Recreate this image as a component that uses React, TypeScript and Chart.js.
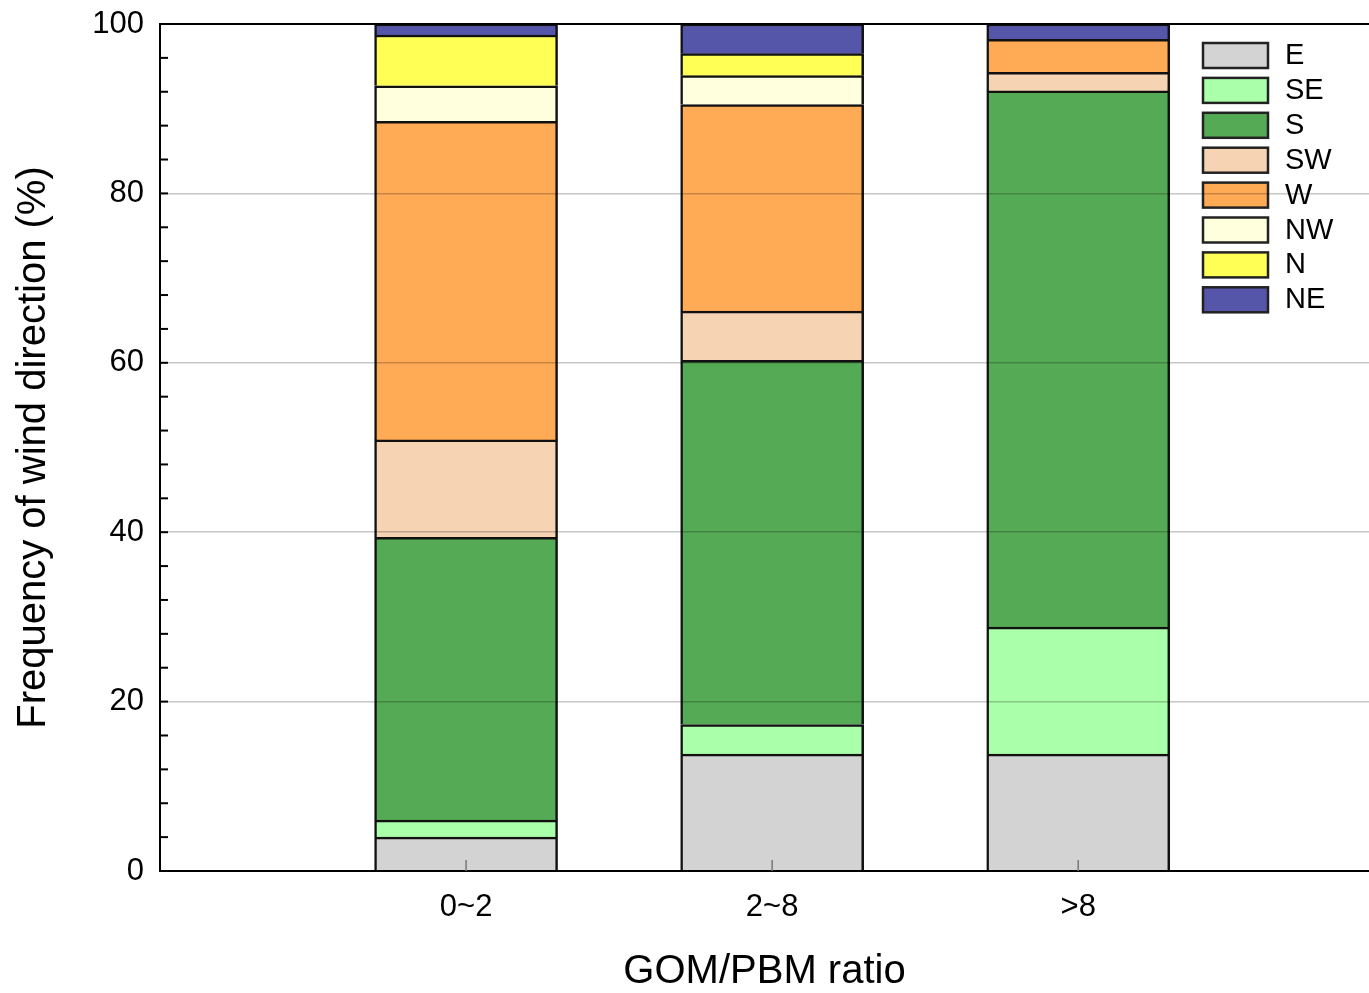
import React, { useEffect, useRef } from 'react';
import { Chart, registerables } from 'chart.js';

Chart.register(...registerables);

const categories = ['0~2', '2~8', '>8'];
const seriesNames = ['E', 'SE', 'S', 'SW', 'W', 'NW', 'N', 'NE'];
const valuesE = [4.0, 13.8, 13.8];
const valuesSE = [2.0, 3.5, 15.0];
const valuesS = [33.4, 43.0, 63.3];
const valuesSW = [11.5, 5.8, 2.2];
const valuesW = [37.6, 24.4, 3.9];
const valuesNW = [4.2, 3.4, 0];
const valuesN = [6.0, 2.6, 0];
const valuesNE = [1.3, 3.5, 1.8];
const seriesValues = [valuesE, valuesSE, valuesS, valuesSW, valuesW, valuesNW, valuesN, valuesNE];
const seriesColors = ['#d3d3d3', '#aaffaa', '#55aa55', '#f5d3b3', '#ffaa55', '#ffffdd', '#ffff55', '#5555aa'];
const yMin = 0;
const yMax = 100;
const yMajorStep = 20;
const yMinorStep = 4;

const FONT = "'Liberation Sans', Arial, Helvetica, sans-serif";

const decorPlugin = {
  id: 'decor',
  afterDatasetsDraw(chart: any) {
    const { ctx } = chart;
    ctx.save();
    seriesNames.forEach((name, i) => {
      const x = 1203;
      const y = 43 + i * 34.9;
      ctx.fillStyle = seriesColors[i];
      ctx.fillRect(x, y, 65, 25);
      ctx.strokeStyle = '#222';
      ctx.lineWidth = 2.5;
      ctx.strokeRect(x, y, 65, 25);
      ctx.fillStyle = '#000';
      ctx.font = `29px ${FONT}`;
      ctx.textAlign = 'left';
      ctx.textBaseline = 'middle';
      ctx.fillText(name, 1285, y + 13);
    });
    ctx.restore();
  },
  afterDraw(chart: any) {
    const { ctx, chartArea, scales } = chart;
    ctx.save();
    ctx.strokeStyle = '#000';
    ctx.lineWidth = 2;
    ctx.beginPath();
    ctx.moveTo(chartArea.left - 1, chartArea.top);
    ctx.lineTo(chartArea.right, chartArea.top);
    ctx.stroke();
    for (let v = yMin; v <= yMax; v += yMinorStep) {
      const y = scales.y.getPixelForValue(v);
      ctx.beginPath();
      ctx.moveTo(chartArea.left, y);
      ctx.lineTo(chartArea.left + 8, y);
      ctx.stroke();
    }
    ctx.strokeStyle = '#777';
    ctx.lineWidth = 1.5;
    categories.forEach((_, i) => {
      const x = scales.x.getPixelForValue(i + 1);
      ctx.beginPath();
      ctx.moveTo(x, chartArea.bottom);
      ctx.lineTo(x, chartArea.bottom - 11);
      ctx.stroke();
    });
    ctx.restore();
  },
};

export default function App() {
  const canvasRef = useRef<HTMLCanvasElement>(null);

  useEffect(() => {
    const canvas = canvasRef.current;
    if (!canvas) return;
    Chart.defaults.font.family = FONT;
    Chart.defaults.color = '#000';

    const datasets = seriesNames.map((name, si) => ({
      label: name,
      data: seriesValues[si].map((v, i) => ({ x: i + 1, y: v })),
      backgroundColor: seriesColors[si],
      borderColor: '#111',
      borderWidth: 2.5,
      barThickness: 183,
    }));

    const chart = new Chart(canvas, {
      type: 'bar',
      data: { datasets },
      plugins: [decorPlugin],
      options: {
        responsive: false,
        animation: false,
        layout: { padding: { top: 24, left: 0, right: 0, bottom: 0 } },
        plugins: { legend: { display: false }, tooltip: { enabled: false } },
        scales: {
          x: {
            type: 'linear',
            stacked: true,
            offset: false,
            min: 0,
            max: 3.95,
            afterBuildTicks: (scale: any) => {
              scale.ticks = categories.map((_, i) => ({ value: i + 1 }));
            },
            afterFit: (scale: any) => {
              scale.height = 122;
              scale.paddingLeft = 0;
              scale.paddingRight = 0;
            },
            ticks: {
              callback: (v: any) => categories[Math.round(Number(v)) - 1] ?? '',
              font: { size: 31 },
              color: '#000',
              padding: 18,
              maxRotation: 0,
              autoSkip: false,
            },
            grid: { display: false, drawTicks: false },
            border: { display: true, color: '#000', width: 2, z: 2 },
            title: {
              display: true,
              text: 'GOM/PBM ratio',
              font: { size: 40, lineHeight: 1 },
              color: '#000',
              padding: { top: 0, bottom: 1 },
            },
          },
          y: {
            type: 'linear',
            stacked: true,
            min: yMin,
            max: yMax,
            afterFit: (scale: any) => {
              scale.width = 160;
              scale.paddingTop = 0;
              scale.paddingBottom = 0;
            },
            ticks: {
              stepSize: yMajorStep,
              font: { size: 31 },
              color: '#000',
              padding: 16,
            },
            grid: {
              drawTicks: false,
              z: 1,
              lineWidth: 1.5,
              color: (ctx: any) => {
                const v = ctx.tick ? ctx.tick.value : 0;
                return v === yMin || v === yMax ? 'rgba(0,0,0,0)' : 'rgba(0,0,0,0.22)';
              },
            },
            border: { display: true, color: '#000', width: 2, z: 2 },
            title: {
              display: true,
              text: 'Frequency of wind direction (%)',
              font: { size: 40, lineHeight: 1 },
              color: '#000',
              padding: { top: 14, bottom: 0 },
            },
          },
        },
      },
    } as any);

    return () => chart.destroy();
  }, []);

  return (
    <div style={{ position: 'fixed', left: 0, top: 0, width: 1369, height: 993, background: '#fff' }}>
      <canvas ref={canvasRef} width={1369} height={993} style={{ display: 'block' }} />
    </div>
  );
}
